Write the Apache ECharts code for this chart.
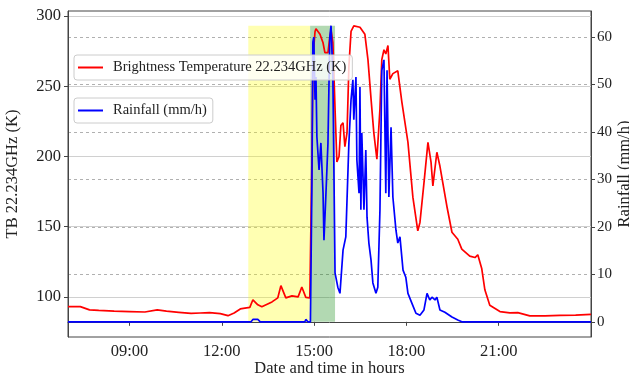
<!DOCTYPE html>
<html>
<head>
<meta charset="utf-8">
<script src="https://cdn.jsdelivr.net/npm/echarts@6/dist/echarts.min.js"></script>
<style>
  html, body { margin: 0; padding: 0; background: #fff; }
  #chart { width: 629px; height: 377px; }
</style>
</head>
<body>
<div id="chart"></div>
<script>
// brightness temperature (hours of day, K)
const tbHours = [7.0, 7.4, 7.7, 8.0, 8.5, 9.0, 9.5, 9.9, 10.2, 10.6, 11.0, 11.3, 11.6, 11.95, 12.2, 12.4, 12.6,
  12.75, 12.91, 13.01, 13.17, 13.30, 13.63, 13.82, 13.92, 14.08, 14.28, 14.48, 14.60, 14.73, 14.86, 14.90,
  14.93, 14.96, 15.03, 15.06, 15.12, 15.19, 15.29, 15.35, 15.45, 15.51, 15.55, 15.61, 15.68, 15.74, 15.81,
  15.87, 15.94, 16.00, 16.07, 16.13, 16.20, 16.29, 16.49, 16.65, 16.75, 16.85, 16.94, 17.04, 17.14, 17.20,
  17.27, 17.33, 17.40, 17.46, 17.56, 17.72, 17.85, 18.05, 18.21, 18.37, 18.44, 18.57, 18.70, 18.80, 18.86,
  18.99, 19.09, 19.32, 19.48, 19.67, 19.80, 20.06, 20.23, 20.32, 20.45, 20.55, 20.71, 21.04, 21.36, 21.62,
  22.01, 22.5, 22.99, 23.5, 24.0];
const tbValues = [93, 93, 90.7, 90.3, 89.8, 89.5, 89.2, 90.7, 89.8, 89, 88.2, 88.5, 88.7, 88, 86.6, 88.5, 91.4,
  92, 92.5, 97.9, 94.3, 92.9, 96.4, 99.3, 108, 99.3, 100.7, 100, 107, 99.6, 99.3, 100,
  200, 270, 289, 291, 290, 287, 281, 274, 274, 285, 290, 281, 234, 196, 200,
  222, 224, 207, 217, 264, 289, 293, 292, 287, 269, 241, 217, 198, 234, 269,
  276, 273, 279, 255, 259, 261, 239, 210, 171, 147, 153, 181, 210, 196, 179,
  203, 193, 164, 146, 141, 134, 129, 128, 130, 120, 105, 94, 89.5, 88.6, 88.8,
  86.4, 86.5, 86.8, 87, 87.5];

// rainfall (hours of day, mm/h)
const rainHours = [7.0, 12.95, 13.01, 13.17, 13.25, 14.70, 14.73, 14.80, 14.88, 14.93, 14.96, 14.99, 15.03,
  15.06, 15.09, 15.16, 15.22, 15.29, 15.32, 15.38, 15.45, 15.51, 15.55, 15.61, 15.68, 15.77, 15.84, 15.94,
  16.03, 16.13, 16.20, 16.26, 16.29, 16.36, 16.39, 16.46, 16.49, 16.52, 16.55, 16.62, 16.68, 16.72, 16.78,
  16.85, 16.91, 17.01, 17.07, 17.14, 17.20, 17.27, 17.33, 17.37, 17.43, 17.50, 17.56, 17.66, 17.72, 17.79,
  17.89, 17.98, 18.05, 18.18, 18.31, 18.44, 18.57, 18.67, 18.76, 18.83, 18.93, 18.99, 19.09, 19.25, 19.48,
  19.67, 19.80, 24.0];
const rainValues = [0, 0, 0.5, 0.5, 0, 0, 0.5, 0, 0, 30, 59, 60, 46.8,
  51.6, 39, 32, 37.7, 27.2, 17.2, 26.3, 37.7, 60, 62.4, 51.6, 10.3, 7.3, 6, 15.1,
  17.9, 37.7, 46.8, 51, 42.6, 51.6, 34.1, 27.1, 49.5, 23.6, 39.8, 23.6, 36.2, 22, 16.6,
  13, 8.2, 6, 7.3, 23.6, 53, 55.2, 27.1, 53, 26.3, 41, 26.3, 19.3, 16.6, 17.9,
  10.9, 9.4, 6, 3.9, 1.8, 1.4, 2.5, 6, 4.6, 5.2, 4.6, 5.2, 2.5, 2, 1,
  0.4, 0, 0];

// highlighted periods (hours)
const yellowSpan = [12.86, 14.87];
const greenSpan = [14.87, 15.68];

const xTicks = [9, 12, 15, 18, 21];
const tbTicks = [100, 150, 200, 250, 300];
const rainTicks = [0, 10, 20, 30, 40, 50, 60];

const tbName = 'Brightness Temperature 22.234GHz (K)';
const rainName = 'Rainfall (mm/h)';
const FONT = 'Liberation Serif';

const rainMax = Math.max(...rainValues);
const zip = (xs, ys) => xs.map((x, i) => [x, ys[i]]);
const pad = n => (n < 10 ? '0' : '') + n;

const legendBase = {
  left: 74,
  orient: 'vertical',
  icon: 'rect',
  itemWidth: 25,
  itemHeight: 2,
  padding: [5, 6, 5, 4],
  backgroundColor: 'rgba(255,255,255,0.8)',
  borderColor: '#ccc',
  borderWidth: 1,
  borderRadius: 3,
  selectedMode: false,
  textStyle: { fontFamily: FONT, fontSize: 14.5, color: '#222', padding: [0, 0, 0, 5] },
};

const chart = echarts.init(document.getElementById('chart'), null, { renderer: 'canvas' });
chart.setOption({
  animation: false,
  backgroundColor: '#fff',
  textStyle: { fontFamily: FONT },
  grid: {
    left: 68, right: 38, top: 11, bottom: 40,
    outerBoundsMode: 'none',
    containLabel: false,
    show: true, borderColor: '#444', borderWidth: 1, backgroundColor: 'transparent',
  },
  legend: [
    Object.assign({}, legendBase, { top: 55, data: [tbName] }),
    Object.assign({}, legendBase, { top: 98, data: [rainName] }),
  ],
  xAxis: {
    type: 'value',
    min: 7,
    max: 24,
    name: 'Date and time in hours',
    nameLocation: 'middle',
    nameGap: 23,
    nameMoveOverlap: false,
    nameTextStyle: { fontFamily: FONT, fontSize: 16.5, color: '#222' },
    axisLine: { lineStyle: { color: '#444' } },
    axisTick: { length: 4, customValues: xTicks, lineStyle: { color: '#444' } },
    axisLabel: {
      customValues: xTicks, margin: 6, fontFamily: FONT, fontSize: 16.5, color: '#222',
      formatter: v => pad(v) + ':00',
    },
    splitLine: { show: false },
  },
  yAxis: [
    {
      type: 'value',
      position: 'left',
      min: 71.4,
      max: 303.6,
      name: 'TB 22.234GHz (K)',
      nameLocation: 'middle',
      nameGap: 47,
      nameMoveOverlap: false,
      nameTextStyle: { fontFamily: FONT, fontSize: 16.5, color: '#222' },
      axisLine: { show: true, lineStyle: { color: '#444' } },
      axisTick: { show: true, length: 4, customValues: tbTicks, lineStyle: { color: '#444' } },
      axisLabel: { customValues: tbTicks, margin: 7, fontFamily: FONT, fontSize: 16.5, color: '#222' },
      splitLine: { show: true, lineStyle: { color: '#d0d0d0', width: 1 } },
    },
    {
      type: 'value',
      position: 'right',
      min: -3.2,
      max: 65.5,
      name: 'Rainfall (mm/h)',
      nameLocation: 'middle',
      nameGap: 25,
      nameMoveOverlap: false,
      nameTextStyle: { fontFamily: FONT, fontSize: 16.5, color: '#222' },
      axisLine: { show: true, lineStyle: { color: '#444' } },
      axisTick: { show: true, length: 4, customValues: rainTicks, lineStyle: { color: '#444' } },
      axisLabel: { customValues: rainTicks, margin: 6, fontFamily: FONT, fontSize: 15, color: '#222' },
      splitLine: { show: true, lineStyle: { color: '#b0b0b0', width: 1, type: [3, 3] } },
    },
  ],
  series: [
    {
      name: tbName,
      type: 'line',
      yAxisIndex: 0,
      data: zip(tbHours, tbValues),
      showSymbol: false,
      color: '#ff0000',
      lineStyle: { width: 1.7, color: '#ff0000' },
      z: 2,
    },
    {
      name: rainName,
      type: 'line',
      yAxisIndex: 1,
      data: zip(rainHours, rainValues),
      showSymbol: false,
      color: '#0000ff',
      lineStyle: { width: 1.7, color: '#0000ff' },
      z: 3,
      markArea: {
        silent: true,
        data: [
          [{ coord: [yellowSpan[0], 0], itemStyle: { color: 'rgba(255,255,0,0.3)' } },
           { coord: [yellowSpan[1], rainMax] }],
          [{ coord: [greenSpan[0], 0], itemStyle: { color: 'rgba(0,128,0,0.3)' } },
           { coord: [greenSpan[1], rainMax] }],
        ],
      },
    },
  ],
});
</script>
</body>
</html>
